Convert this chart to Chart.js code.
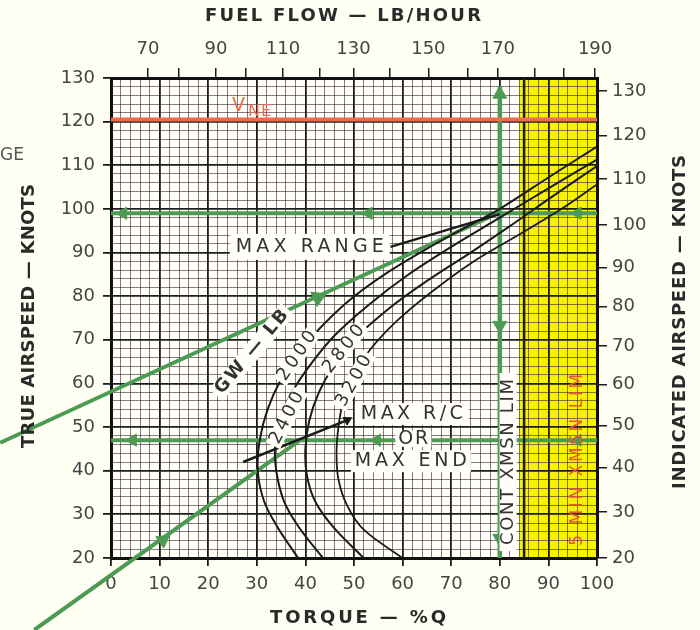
<!DOCTYPE html>
<html lang="en">
<head>
<meta charset="UTF-8">
<title>Cruise chart</title>
<script src="https://cdn.jsdelivr.net/npm/chart.js@4"></script>
<style>
  html, body { margin: 0; padding: 0; background: #fffef3; }
  canvas { display: block; }
</style>
</head>
<body>
<canvas id="cruiseChart" width="700" height="630"></canvas>
<script>
// x = torque %Q, y = true airspeed (knots)
const fuelFlowLabels = ['70', '', '90', '', '110', '', '130', '', '150', '', '170', '', '', '190'];
const fuelFlowTorque = [7.6, 14.0, 21.6, 27.7, 35.4, 43.0, 49.9, 57.4, 65.3, 73.4, 79.6, 87.1, 93.2, 99.6];
const iasLabels = ['20', '30', '40', '50', '60', '70', '80', '90', '100', '110', '120', '130'];
const iasTas = [20, 30.5, 40.7, 50.4, 59.7, 68.6, 77.6, 86.6, 96.3, 106.8, 116.8, 127.0];

const gwLabels = ['2000', '2400', '2800', '3200'];
const gw2000 = [[38.5, 20], [34.3, 27], [31.5, 33], [30.2, 40], [30.6, 47], [32.2, 54], [34.8, 60.5], [38.5, 66.5], [42, 71.5], [49, 79], [57, 85.5], [66, 91.5], [75, 97], [80, 100], [90, 107.2], [100, 114.3]];
const gw2400 = [[43.6, 20], [38.7, 27], [35.6, 33], [34, 40], [33.8, 46], [35, 52.5], [37.5, 58.5], [41.5, 65], [46, 71], [53, 78], [61, 84.8], [70, 91.3], [80, 98], [90, 104.7], [100, 111.3]];
const gw2800 = [[52, 20], [45.8, 27], [42, 33], [40.3, 39], [40, 45], [40.8, 51.5], [42.8, 58], [45.8, 64], [50, 70], [57, 77], [65, 83.5], [74, 90], [82, 96], [91, 103], [100, 109.8]];
const gw3200 = [[60, 20], [52, 26.5], [48.6, 32], [46.8, 38], [46.4, 44], [46.8, 50], [47.8, 56], [50, 62], [53.5, 68], [59, 74.5], [66, 81], [74, 87.5], [83, 93.5], [92, 99.5], [100, 105.6]];

const vneTas = 120.5;
const yellowBand = [84, 100];
const limitTorque = 85;
const maxRangeLine = [[57.5, 91.3], [80, 98.8]];
const maxRcLine = [[27.2, 42], [48.6, 51.6]];

const guideUpper = [[-22.8, 46.4], [79.6, 99]];
const guideLower = [[-15.8, 3.5], [38.9, 47]];
const guideHigh = [[0, 99], [100, 99]];
const guideLow = [[0, 47], [100, 47]];
const guideTorque = [[80, 20], [80, 128]];

const arrowsLeft = [[2.5, 99], [53, 99], [96, 99], [4.5, 47], [54.7, 47], [96, 47]];
const arrowsUp = [[80, 126.3]];
const arrowsDown = [[80, 73.3], [80, 24.5]];
const arrowsUpper = [[-4.3, 55.8], [42.6, 79.7]];
const arrowsLowerUp = [[10.7, 24.1]];
const arrowsLowerDown = [[-14.6, 4.5]];
const arrowsBlack = [[48.6, 51.6]];

const GREEN = '#4d9b53';
const RED = '#f26b4c';
const INK = '#333333';
const MAJOR = '#1c1c1c';
const MINOR = 'rgba(55, 35, 55, 0.6)';
const FONT = 'DejaVu Sans';

const pts = arr => arr.map(([x, y]) => ({ x, y }));

function lineSet(data, color, width, extra) {
    return Object.assign({
        data: pts(data),
        showLine: true,
        borderColor: color,
        backgroundColor: color,
        borderWidth: width,
        pointRadius: 0,
        tension: 0
    }, extra || {});
}

function arrowSet(data, color, rotation, size) {
    return {
        data: pts(data),
        showLine: false,
        pointStyle: 'triangle',
        pointRadius: size || 7,
        pointRotation: rotation,
        backgroundColor: color,
        borderColor: color,
        borderWidth: 1,
        clip: false
    };
}

function isMajor(ctx) {
    return ctx.tick && Math.abs(ctx.tick.value % 10) < 0.01;
}

function majorOnly(v) {
    return Math.abs(v % 10) < 0.01 ? String(v) : '';
}

const tickFont = { family: FONT, size: 18 };

function drawText(ctx, text, x, y, o) {
    ctx.save();
    ctx.translate(x, y);
    if (o.angle) ctx.rotate(o.angle * Math.PI / 180);
    ctx.font = o.font;
    ctx.textAlign = 'center';
    ctx.textBaseline = 'middle';
    if (o.box) {
        ctx.fillStyle = o.boxColor || '#fffef8';
        ctx.fillRect(-o.box[0] / 2, -o.box[1] / 2, o.box[0], o.box[1]);
    }
    if (o.width) {
        const w = ctx.measureText(text).width;
        const sp = Math.max(0, (o.width - w) / Math.max(1, text.length - 1));
        ctx.letterSpacing = sp + 'px';
        ctx.translate(sp / 2, 0);
    }
    ctx.fillStyle = o.color || INK;
    ctx.fillText(text, 0, 0);
    ctx.restore();
}

const paper = {
    id: 'paper',
    beforeDraw(chart) {
        const { ctx, chartArea: a, scales: { x } } = chart;
        ctx.save();
        ctx.fillStyle = '#fffef3';
        ctx.fillRect(0, 0, chart.width, chart.height);
        ctx.fillStyle = '#fffff8';
        ctx.fillRect(a.left, a.top, a.right - a.left, a.bottom - a.top);
        const x0 = x.getPixelForValue(yellowBand[0]);
        const x1 = x.getPixelForValue(yellowBand[1]);
        ctx.fillStyle = '#f7f300';
        ctx.fillRect(x0, a.top, x1 - x0, a.bottom - a.top);
        ctx.restore();
    },
    afterDraw(chart) {
        const { ctx, scales: { x, y } } = chart;
        const px = (t, v) => [x.getPixelForValue(t), y.getPixelForValue(v)];
        const bold = s => `bold ${s}px ${FONT}`;
        const reg = s => `${s}px ${FONT}`;

        // axis titles
        drawText(ctx, 'FUEL FLOW \u2014 LB/HOUR', 343, 16, { font: bold(18), width: 276, color: '#2a2a2a' });
        drawText(ctx, 'TORQUE \u2014 %Q', 358, 618, { font: bold(18), width: 176, color: '#2a2a2a' });
        drawText(ctx, 'TRUE AIRSPEED \u2014 KNOTS', 29, 316, { font: bold(18), width: 264, angle: -90, color: '#2a2a2a' });
        drawText(ctx, 'INDICATED AIRSPEED \u2014 KNOTS', 680, 322, { font: bold(18), width: 334, angle: -90, color: '#2a2a2a' });
        drawText(ctx, 'GE', 12, 156, { font: reg(17), width: 24, color: '#555' });

        // V never exceed
        ctx.save();
        ctx.fillStyle = RED;
        ctx.font = reg(19);
        ctx.textBaseline = 'alphabetic';
        ctx.fillText('V', 232, 111);
        ctx.font = reg(16);
        ctx.letterSpacing = '1px';
        ctx.fillText('NE', 248, 116);
        ctx.restore();

        let p = px(40.9, 91.3);
        drawText(ctx, 'MAX RANGE', p[0], p[1], { font: reg(19), width: 148, box: [160, 26] });
        p = px(61.9, 53);
        drawText(ctx, 'MAX R/C', p[0], p[1], { font: reg(19), width: 102, box: [114, 22] });
        p = px(62.2, 47.3);
        drawText(ctx, 'OR', p[0], p[1], { font: reg(19), width: 30, box: [36, 16] });
        p = px(61.7, 42.2);
        drawText(ctx, 'MAX END', p[0], p[1], { font: reg(19), width: 112, box: [120, 22] });
        p = px(81.7, 42);
        drawText(ctx, 'CONT XMSN LIM', p[0], p[1], { font: reg(18), width: 166, angle: -90, box: [178, 17] });
        p = px(96.1, 42.5);
        drawText(ctx, '5 MIN XMSN LIM', p[0], p[1], { font: reg(17), width: 172, angle: -90, color: '#e8553a' });

        // gross weight labels
        p = px(29, 67.2);
        drawText(ctx, 'GW \u2014 LB', p[0], p[1], { font: bold(18), width: 104, angle: -50, box: [112, 18] });
        const gwPos = [[38.3, 66.3, -56], [36.2, 52.1, -63], [47.9, 67.9, -52], [50, 60.6, -61]];
        gwLabels.forEach((t, i) => {
            const q = px(gwPos[i][0], gwPos[i][1]);
            drawText(ctx, t, q[0], q[1], { font: reg(18), width: 56, angle: gwPos[i][2], box: [62, 16] });
        });
    }
};

new Chart(document.getElementById('cruiseChart'), {
    type: 'scatter',
    data: {
        datasets: [
            lineSet([[0, vneTas], [100, vneTas]], RED, 4),
            lineSet([[limitTorque, 20], [limitTorque, 130]], MAJOR, 2.5),
            lineSet(gw2000, '#1a1a1a', 2, { tension: 0.35 }),
            lineSet(gw2400, '#1a1a1a', 2, { tension: 0.35 }),
            lineSet(gw2800, '#1a1a1a', 2, { tension: 0.35 }),
            lineSet(gw3200, '#1a1a1a', 1.8, { tension: 0.35 }),
            lineSet(maxRangeLine, '#1a1a1a', 2.5),
            lineSet(maxRcLine, '#1a1a1a', 2.5),
            lineSet(guideHigh, GREEN, 4),
            lineSet(guideLow, GREEN, 4),
            lineSet(guideTorque, GREEN, 4.5),
            lineSet(guideUpper, GREEN, 4, { clip: false }),
            lineSet(guideLower, GREEN, 4, { clip: false }),
            arrowSet(arrowsLeft, GREEN, 270, 7),
            arrowSet(arrowsUp, GREEN, 0, 8),
            arrowSet(arrowsDown, GREEN, 180, 8),
            arrowSet(arrowsUpper, GREEN, 66, 9),
            arrowSet(arrowsLowerUp, GREEN, 55, 8),
            arrowSet(arrowsLowerDown, GREEN, 235, 9),
            arrowSet(arrowsBlack, '#1a1a1a', 62, 5)
        ]
    },
    options: {
        responsive: false,
        animation: false,
        devicePixelRatio: 1,
        layout: { padding: 0 },
        plugins: { legend: { display: false }, tooltip: { enabled: false } },
        scales: {
            x: {
                type: 'linear', position: 'bottom', min: 0, max: 100,
                afterFit: s => { s.height = 72; },
                ticks: { stepSize: 2, autoSkip: false, maxRotation: 0, padding: 8, color: '#444', font: tickFont, callback: majorOnly },
                grid: {
                    color: c => isMajor(c) ? MAJOR : MINOR,
                    lineWidth: c => isMajor(c) ? 1.8 : 1,
                    tickColor: c => isMajor(c) ? MAJOR : 'rgba(0,0,0,0)',
                    tickLength: 8
                },
                border: { color: '#111', width: 3 }
            },
            x2: {
                type: 'linear', position: 'top', min: 0, max: 100,
                afterFit: s => { s.height = 78; },
                afterBuildTicks: s => { s.ticks = fuelFlowTorque.map(v => ({ value: v })); },
                ticks: { autoSkip: false, maxRotation: 0, padding: 8, color: '#444', font: tickFont, callback: (v, i) => fuelFlowLabels[i] },
                grid: { drawOnChartArea: false, tickLength: 10, tickColor: MAJOR, lineWidth: 1.5 },
                border: { color: '#111', width: 3 }
            },
            y: {
                type: 'linear', position: 'left', min: 20, max: 130,
                afterFit: s => { s.width = 111; },
                ticks: { stepSize: 2, autoSkip: false, padding: 8, color: '#444', font: tickFont, callback: majorOnly },
                grid: {
                    color: c => isMajor(c) ? MAJOR : MINOR,
                    lineWidth: c => isMajor(c) ? 1.8 : 1,
                    tickColor: c => isMajor(c) ? MAJOR : 'rgba(0,0,0,0)',
                    tickLength: 8
                },
                border: { color: '#111', width: 3 }
            },
            y2: {
                type: 'linear', position: 'right', min: 20, max: 130,
                afterFit: s => { s.width = 103; },
                afterBuildTicks: s => { s.ticks = iasTas.map(v => ({ value: v })); },
                ticks: { autoSkip: false, padding: 5, color: '#444', font: tickFont, callback: (v, i) => iasLabels[i] },
                grid: { drawOnChartArea: false, tickLength: 10, tickColor: MAJOR, lineWidth: 1.5 },
                border: { color: '#111', width: 3 }
            }
        }
    },
    plugins: [paper]
});
</script>
</body>
</html>
